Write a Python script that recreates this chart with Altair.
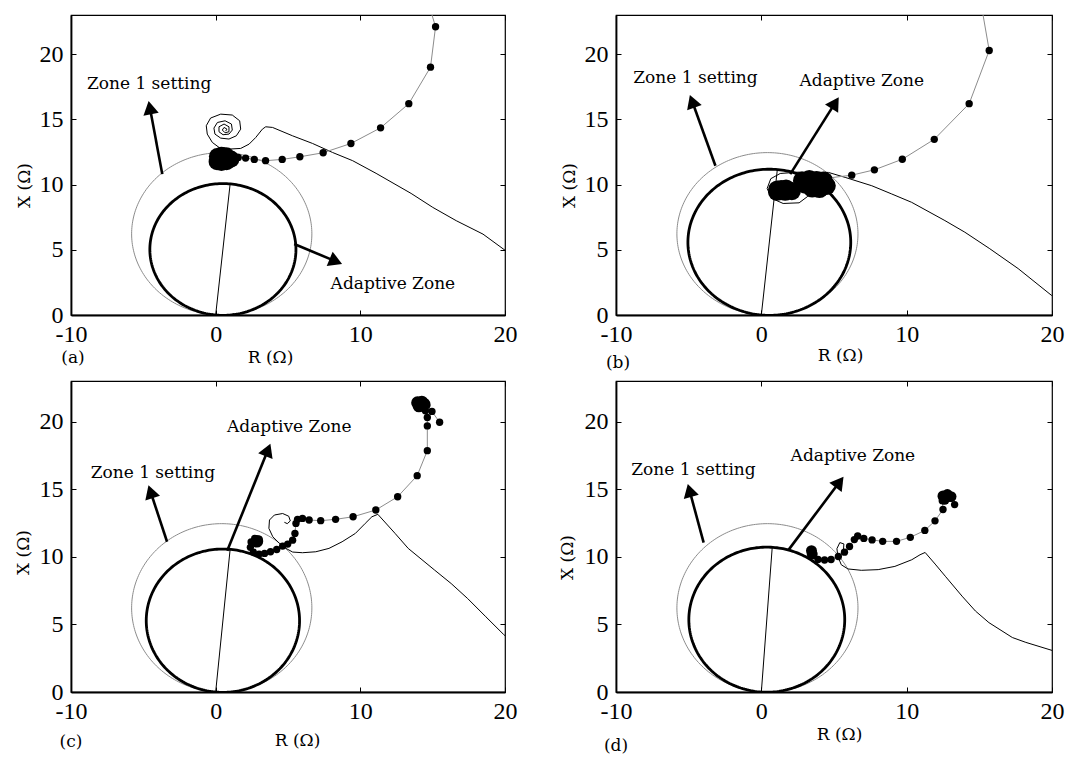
import math
import numpy as np
import pandas as pd
import altair as alt

SERIF = "DejaVu Serif"
NUM = "Liberation Serif"

X_DOMAIN = [-10, 20]
Y_DOMAIN = [0, 23]
X_TICKS = [-10, 0, 10, 20]
Y_TICKS = [0, 5, 10, 15, 20]

# Zone 1 (mho) setting circle: centre and radius
ZONE1_CENTER = (0.42, 6.22)
ZONE1_RADIUS = 6.23

# Adaptive zone: far end of the mho diameter (the circle passes through the origin)
ADAPT_END = {"a": (1.0, 10.05), "b": (1.1, 11.15), "c": (1.0, 10.55), "d": (0.75, 10.7)}

# ---- panel (a) ----
A_GRAY = [(14.68, 24.0), (15.2, 22.1), (14.85, 19.0), (13.35, 16.2), (11.4, 14.35), (9.35, 13.15),
          (7.43, 12.44), (5.82, 12.13), (4.6, 11.93), (3.45, 11.83), (2.67, 11.93), (2.07, 12.03),
          (1.56, 12.08), (0.9, 12.0)]
A_BLACK = [(20.5, 4.56), (18.48, 6.2), (16.63, 7.23), (15.01, 8.25), (13.51, 9.32), (11.09, 10.86),
           (9.47, 11.83), (8.08, 12.46), (6.7, 13.15), (5.31, 13.74), (3.93, 14.38), (3.46, 14.43),
           (3.23, 14.25), (2.77, 13.61), (2.31, 13.1), (1.73, 12.77), (0.92, 12.72), (0.23, 12.85),
           (-0.23, 13.23), (-0.58, 13.87), (-0.65, 14.51), (-0.35, 15.1), (0.35, 15.4), (1.15, 15.33),
           (1.66, 14.89), (1.73, 14.25), (1.43, 13.74), (0.92, 13.49), (0.35, 13.56), (-0.05, 13.87),
           (-0.12, 14.33), (0.12, 14.76), (0.65, 14.89), (1.09, 14.64), (1.15, 14.18), (0.92, 13.87),
           (0.51, 13.82), (0.23, 14.05), (0.23, 14.43), (0.58, 14.64), (0.92, 14.43), (0.92, 14.05),
           (0.65, 13.97), (0.46, 14.18), (0.58, 14.38), (0.78, 14.25), (0.69, 14.1)]
A_BLOB = [(0.1, 11.75), (0.75, 11.75), (0.4, 12.25), (0.4, 11.7), (0.12, 12.15), (0.72, 12.2), (1.05, 11.95)]
A_BLOB_SIZE = 290
A_NOTES = [("Zone 1 setting", -4.6, 17.7), ("Adaptive Zone", 12.25, 2.37)]
A_ARROWS = [(-3.69, 10.8, -4.55, 15.9), (5.43, 5.44, 8.31, 4.11)]

# ---- panel (b) ----
B_GRAY = [(15.1, 24.0), (15.68, 20.28), (14.3, 16.2), (11.9, 13.47), (9.7, 11.94), (7.78, 11.13),
          (6.22, 10.72), (4.6, 10.5)]
B_BLACK = [(20.5, 1.03), (19.95, 1.52), (17.67, 3.56), (15.72, 5.08), (14.0, 6.35), (12.63, 7.24),
           (10.34, 8.64), (8.97, 9.28), (7.6, 9.91), (5.77, 10.55), (4.62, 10.93), (3.6, 10.95),
           (2.5, 10.95), (1.3, 10.85), (0.65, 10.45), (0.4, 9.7), (0.7, 8.95), (1.5, 8.55), (2.6, 8.6),
           (3.2, 9.1), (3.3, 9.8), (2.8, 10.3)]
B_BLOB = [(1.08, 9.45), (1.64, 9.45), (1.36, 9.66), (1.7, 9.7), (1.1, 9.62), (2.1, 9.5),
          (3.02, 10.0), (3.3, 10.42), (3.5, 9.7), (4.0, 9.66), (4.5, 9.9), (4.3, 10.3), (3.8, 10.35), (2.8, 10.3)]
B_BLOB_SIZE = 330
B_NOTES = [("Zone 1 setting", -4.53, 18.17), ("Adaptive Zone", 6.91, 17.92)]
B_ARROWS = [(-3.16, 11.44, -4.76, 16.39), (1.99, 10.8, 5.08, 16.26)]

# ---- panel (c) ----
C_GRAY = [(15.48, 19.95), (14.95, 20.75), (14.6, 21.2), (14.2, 21.4), (13.9, 21.3), (14.1, 21.0),
          (14.5, 20.8), (14.63, 20.3), (14.63, 19.68), (14.63, 17.85), (13.93, 16.0), (12.58, 14.44),
          (11.07, 13.46), (9.5, 12.96), (8.29, 12.77), (7.26, 12.67), (6.46, 12.72), (6.0, 12.84),
          (5.66, 12.77), (5.55, 12.47), (5.48, 11.73), (5.32, 11.23), (4.98, 10.94), (4.63, 10.79),
          (4.22, 10.54), (3.79, 10.37), (3.38, 10.25), (3.0, 10.2), (2.6, 10.35), (2.4, 10.7),
          (2.45, 11.1), (2.7, 11.35), (3.0, 11.3), (2.95, 11.05)]
C_BLACK = [(20.5, 3.7), (19.89, 4.27), (18.68, 5.56), (17.42, 6.91), (16.28, 8.02), (15.14, 9.01),
           (13.31, 10.62), (12.4, 11.73), (11.21, 13.14), (10.8, 12.96), (10.34, 12.47), (9.66, 11.73),
           (8.74, 11.11), (7.83, 10.62), (6.92, 10.37), (6.0, 10.3), (5.32, 10.35), (4.86, 10.62),
           (4.41, 10.99), (3.95, 11.48), (3.68, 12.1), (3.72, 12.72), (4.06, 13.09), (4.63, 13.2),
           (5.05, 13.0), (5.16, 12.65), (4.95, 12.45), (4.75, 12.55)]
C_BLOB = [(2.85, 11.15), (13.95, 21.4), (14.25, 21.45), (14.4, 21.3), (14.05, 21.15)]
C_BLOB_SIZE = 160
C_NOTES = [("Zone 1 setting", -4.34, 16.17), ("Adaptive Zone", 5.09, 19.63)]
C_ARROWS = [(-3.36, 11.11, -4.5, 14.81), (0.8, 10.44, 3.61, 17.9)]

# ---- panel (d) ----
D_GRAY = [(13.3, 13.86), (13.0, 14.35), (12.7, 14.55), (12.4, 14.45), (12.45, 14.15), (12.5, 13.5),
          (11.95, 12.66), (11.25, 11.95), (10.25, 11.44), (9.3, 11.14), (8.35, 11.14), (7.62, 11.25),
          (7.05, 11.36), (6.63, 11.54), (6.4, 11.27), (6.07, 10.76), (5.72, 10.34), (5.3, 10.02),
          (4.8, 9.8), (4.35, 9.76), (3.9, 9.8), (3.55, 10.1), (3.45, 10.45)]
D_BLACK = [(20.5, 2.95), (20.05, 3.06), (18.2, 3.67), (17.27, 4.03), (15.66, 5.13), (14.73, 5.99),
           (13.81, 7.09), (12.66, 8.56), (11.96, 9.46), (11.27, 10.32), (10.92, 10.15), (10.35, 9.78),
           (9.19, 9.29), (8.04, 9.05), (6.88, 9.0), (5.96, 9.1), (5.5, 9.41), (5.27, 10.02), (5.2, 10.6),
           (5.4, 11.05), (5.68, 10.95), (5.65, 10.5)]
D_BLOB = [(12.5, 14.5), (12.8, 14.6), (13.05, 14.45), (12.6, 14.25), (3.45, 10.45), (3.5, 10.2)]
D_BLOB_SIZE = 120
D_NOTES = [("Zone 1 setting", -4.67, 16.43), ("Adaptive Zone", 6.3, 17.48)]
D_ARROWS = [(-3.97, 11.05, -4.94, 14.91), (1.87, 10.51, 5.38, 15.53)]

GRAY = "#8c8c8c"


def pts(lst):
    return pd.DataFrame({"x": [p[0] for p in lst], "y": [p[1] for p in lst], "i": list(range(len(lst)))})


def circle(cx, cy, r, n=241):
    t = np.linspace(0, 2 * np.pi, n)
    return pd.DataFrame({"x": cx + r * np.cos(t), "y": cy + r * np.sin(t), "i": np.arange(n)})


XS = alt.Scale(domain=X_DOMAIN, nice=False, zero=False)
YS = alt.Scale(domain=Y_DOMAIN, nice=False, zero=False)


def panel(key, W, H, gray, black, blob, blob_size, notes, arrows, tx, ty, ytx, yty, lab_x, lab_y):
    main_x = alt.Axis(values=X_TICKS, orient="bottom", ticks=False, tickSize=0, grid=False,
                      domain=True, domainColor="black", domainWidth=1.8,
                      labelFont=NUM, labelFontSize=24, labelColor="black", labelPadding=7,
                      labelFlush=False, labelExpr="'' + datum.value",
                      title="R (Ω)", titleFont=SERIF, titleFontSize=17, titleFontWeight="normal",
                      titleColor="black", titleX=tx, titleY=ty)
    main_y = alt.Axis(values=Y_TICKS, orient="left", ticks=False, tickSize=0, grid=False,
                      domain=True, domainColor="black", domainWidth=1.8,
                      labelFont=NUM, labelFontSize=24, labelColor="black", labelPadding=8,
                      labelFlush=False, labelExpr="'' + datum.value",
                      title="X (Ω)", titleFont=SERIF, titleFontSize=17, titleFontWeight="normal",
                      titleColor="black", titleX=ytx, titleY=yty)

    def tick_axis(vals, orient):
        return alt.Axis(values=vals, orient=orient, offset=-5, ticks=True, tickSize=5, tickWidth=1,
                        tickColor="black", labels=False, domain=False, grid=False)

    z1 = alt.Chart(circle(ZONE1_CENTER[0], ZONE1_CENTER[1], ZONE1_RADIUS)).mark_line(
        color=GRAY, strokeWidth=1, clip=True).encode(
        x=alt.X("x:Q", scale=XS, axis=main_x),
        y=alt.Y("y:Q", scale=YS, axis=main_y),
        order="i:Q")

    ex, ey = ADAPT_END[key]
    ad = alt.Chart(circle(ex / 2, ey / 2, math.hypot(ex, ey) / 2)).mark_line(
        color="black", strokeWidth=2.8, clip=True).encode(
        x=alt.X("x:Q", scale=XS, axis=tick_axis(X_TICKS, "bottom"), title=None),
        y=alt.Y("y:Q", scale=YS, axis=tick_axis(Y_TICKS, "left"), title=None),
        order="i:Q")

    dia = alt.Chart(pd.DataFrame({"x": [0.0, ex], "y": [0.0, ey], "i": [0, 1]})).mark_line(
        color="black", strokeWidth=1, clip=True).encode(
        x=alt.X("x:Q", scale=XS, axis=tick_axis(X_TICKS, "top"), title=None),
        y=alt.Y("y:Q", scale=YS, axis=tick_axis(Y_TICKS, "right"), title=None),
        order="i:Q")

    xe = alt.X("x:Q", scale=XS, axis=None)
    ye = alt.Y("y:Q", scale=YS, axis=None)

    blk = alt.Chart(pts(black)).mark_line(color="black", strokeWidth=1, clip=True).encode(x=xe, y=ye, order="i:Q")
    gry = alt.Chart(pts(gray)).mark_line(color=GRAY, strokeWidth=1, clip=True).encode(x=xe, y=ye, order="i:Q")
    dots = alt.Chart(pts(gray)).mark_circle(color="black", size=54, opacity=1, clip=True).encode(x=xe, y=ye)
    blb = alt.Chart(pts(blob)).mark_circle(color="black", size=blob_size, opacity=1, clip=True).encode(x=xe, y=ye)

    sx = W / (X_DOMAIN[1] - X_DOMAIN[0])
    sy = H / (Y_DOMAIN[1] - Y_DOMAIN[0])
    adf = pd.DataFrame({
        "x": [a[0] for a in arrows], "y": [a[1] for a in arrows],
        "x2": [a[2] for a in arrows], "y2": [a[3] for a in arrows],
    })
    adf["ang"] = [math.degrees(math.atan2((a[2] - a[0]) * sx, (a[3] - a[1]) * sy)) % 360 for a in arrows]
    shafts = alt.Chart(adf).mark_rule(color="black", strokeWidth=2.6).encode(
        x=xe, y=ye, x2="x2:Q", y2="y2:Q")
    heads = alt.Chart(adf).mark_point(shape="triangle-up", filled=True, color="black", size=240, opacity=1).encode(
        x=alt.X("x2:Q", scale=XS, axis=None), y=alt.Y("y2:Q", scale=YS, axis=None),
        angle=alt.Angle("ang:Q", scale=None))

    ndf = pd.DataFrame({"t": [n[0] for n in notes], "x": [n[1] for n in notes], "y": [n[2] for n in notes]})
    txt = alt.Chart(ndf).mark_text(font=SERIF, fontSize=17, color="black", align="center", baseline="middle").encode(
        x=xe, y=ye, text="t:N")

    lab = alt.Chart(pd.DataFrame({"t": ["(" + key + ")"]})).mark_text(
        font=SERIF, fontSize=17, color="black", align="center", baseline="middle").encode(
        x=alt.value(lab_x), y=alt.value(H + lab_y), text="t:N")

    return alt.layer(z1, ad, dia, blk, gry, dots, blb, shafts, heads, txt, lab).resolve_axis(
        x="independent", y="independent").properties(width=W, height=H)


pa = panel("a", 434, 300, A_GRAY, A_BLACK, A_BLOB, A_BLOB_SIZE, A_NOTES, A_ARROWS, 199, 34, -38, 170, 2, 43)
pb = panel("b", 436, 300, B_GRAY, B_BLACK, B_BLOB, B_BLOB_SIZE, B_NOTES, B_ARROWS, 224, 32, -38, 170, 2, 48)
pc = panel("c", 434, 311, C_GRAY, C_BLACK, C_BLOB, C_BLOB_SIZE, C_NOTES, C_ARROWS, 226, 40, -39, 171, 0, 50)
pd_ = panel("d", 436, 311, D_GRAY, D_BLACK, D_BLOB, D_BLOB_SIZE, D_NOTES, D_ARROWS, 223, 34, -40, 176, 0, 54)

chart = alt.concat(pa, pb, pc, pd_, columns=2, spacing={"row": 7, "column": 39}).properties(
    padding={"left": 5, "top": 5, "right": 0, "bottom": 0}
).configure_view(stroke="black", strokeWidth=1.2)

chart.save("out.html", embed_options={"renderer": "svg", "actions": False})
